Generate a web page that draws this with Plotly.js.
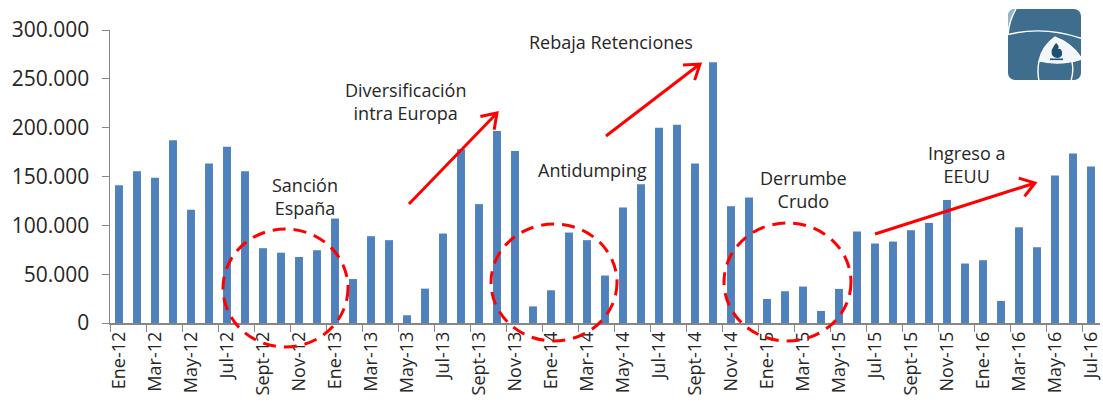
<!DOCTYPE html>
<html>
<head>
<meta charset="utf-8">
<script src="https://cdn.plot.ly/plotly-3.0.1.min.js"></script>
<style>html,body{margin:0;padding:0;background:#fff;}#chart{width:1103px;height:407px;}</style>
</head>
<body>
<div id="chart"></div>
<script>
// ---- Data ----
const categories = [
  'Ene-12','Feb-12','Mar-12','Abr-12','May-12','Jun-12','Jul-12','Ago-12','Sept-12','Oct-12','Nov-12','Dic-12',
  'Ene-13','Feb-13','Mar-13','Abr-13','May-13','Jun-13','Jul-13','Ago-13','Sept-13','Oct-13','Nov-13','Dic-13',
  'Ene-14','Feb-14','Mar-14','Abr-14','May-14','Jun-14','Jul-14','Ago-14','Sept-14','Oct-14','Nov-14','Dic-14',
  'Ene-15','Feb-15','Mar-15','Abr-15','May-15','Jun-15','Jul-15','Ago-15','Sept-15','Oct-15','Nov-15','Dic-15',
  'Ene-16','Feb-16','Mar-16','Abr-16','May-16','Jun-16','Jul-16'
];
const values = [
  141000,155500,148600,187000,116000,163400,180400,155500,76600,72000,67600,74500,
  107000,45000,88900,84800,7900,35200,91600,178000,121700,196500,176000,17000,
  33500,92600,84800,48600,118300,142000,199900,203000,163400,267000,119600,128500,
  24600,32500,37300,12300,34900,93700,81400,83400,95000,102500,126000,60900,
  64300,22600,98000,77600,151000,173600,160300
];
const yTickVals = [0, 50000, 100000, 150000, 200000, 250000, 300000];
const notes = [
  {text: 'Sanción<br>España', x: 305, y: 196},
  {text: 'Diversificación<br>intra Europa', x: 405, y: 101},
  {text: 'Rebaja Retenciones', x: 611, y: 42},
  {text: 'Antidumping', x: 592, y: 170},
  {text: 'Derrumbe<br>Crudo', x: 803, y: 189},
  {text: 'Ingreso a<br>EEUU', x: 966, y: 164}
];

// ---- Layout helpers (pixel -> paper) ----
const L = 110, T = 30, W = 990, H = 293;
const fx = px => (px - L) / W;
const fy = py => (T + H - py) / H;

function circleShape(cx, cy, rx, ry) {
  return {type: 'circle', xref: 'paper', yref: 'paper',
    x0: fx(cx - rx), x1: fx(cx + rx), y0: fy(cy + ry), y1: fy(cy - ry),
    line: {color: '#FF0000', width: 3, dash: '13px,8px'}};
}
function arrowShape(x0, y0, x1, y1) {
  const ang = Math.atan2(y1 - y0, x1 - x0);
  const len = 17, spread = 0.6;
  const ax = x1 - len * Math.cos(ang - spread), ay = y1 - len * Math.sin(ang - spread);
  const bx = x1 - len * Math.cos(ang + spread), by = y1 - len * Math.sin(ang + spread);
  const p = (x, y) => fx(x).toFixed(5) + ',' + fy(y).toFixed(5);
  return {type: 'path', xref: 'paper', yref: 'paper',
    path: 'M' + p(x0, y0) + ' L' + p(x1, y1) + ' M' + p(ax, ay) + ' L' + p(x1, y1) + ' L' + p(bx, by),
    line: {color: '#FF0000', width: 3}};
}

const logoSvg =
  '<svg xmlns="http://www.w3.org/2000/svg" width="73" height="71" viewBox="0 0 73 71">' +
  '<defs><clipPath id="c"><rect x="0" y="0" width="73" height="71" rx="7" ry="7"/></clipPath></defs>' +
  '<g clip-path="url(#c)">' +
  '<rect x="0" y="0" width="73" height="71" fill="#3F6D8E"/>' +
  '<path d="M0,0 L8,0 Q1,12 0,26 Z" fill="#93B6CD"/>' +
  '<path d="M8,0 Q1,12 0,26" stroke="#fff" stroke-width="1.4" fill="none"/>' +
  '<path d="M-2,26 Q36,16 75,30" stroke="#fff" stroke-width="1.4" fill="none"/>' +
  '<path d="M47,28 Q34,37 31,52 Q52,57 74,50 Q64,34 47,28 Z" fill="#F4F7FA" stroke="#fff" stroke-width="1.2"/>' +
  '<path d="M31,52 Q29,62 31,72" stroke="#fff" stroke-width="1.4" fill="none"/>' +
  '<path d="M64,53 Q66,62 63,72" stroke="#fff" stroke-width="1.4" fill="none"/>' +
  '<path d="M48,34 Q42,41 44,46 Q46,49 50,49 Q55,48 54,43 Q53,39 50,40 Q52,37 48,34 Z" fill="#1F4F70"/>' +
  '<rect x="42" y="49.5" width="13" height="1.6" fill="#1F4F70"/>' +
  '</g></svg>';
const logoUri = 'data:image/svg+xml;charset=utf-8,' + encodeURIComponent(logoSvg);

const textColor = '#262626';
const fontFam = '"Open Sans", "Noto Sans", sans-serif';

const trace = {
  type: 'bar',
  x: categories,
  y: values,
  marker: {color: '#4F81BD', line: {width: 0}},
  hoverinfo: 'x+y'
};

const layout = {
  width: 1103, height: 407,
  margin: {l: L, r: 1103 - L - W, t: T, b: 407 - T - H, pad: 0},
  paper_bgcolor: '#ffffff', plot_bgcolor: '#ffffff',
  separators: ',.',
  showlegend: false,
  bargap: 0.56,
  font: {family: fontFam, color: textColor},
  xaxis: {
    type: 'category',
    tickmode: 'linear', tick0: 0, dtick: 2,
    tickson: 'boundaries',
    ticks: 'outside', ticklen: 7, tickcolor: '#868686', tickwidth: 1,
    tickangle: -90,
    tickfont: {size: 18, family: fontFam, color: textColor},
    showline: true, linecolor: '#868686', linewidth: 1.5,
    showgrid: false, zeroline: false,
    range: [-0.5, categories.length - 0.5]
  },
  yaxis: {
    range: [0, 300000],
    tickmode: 'array', tickvals: yTickVals,
    tickformat: ',d',
    ticks: 'outside', ticklen: 7, tickcolor: '#868686', tickwidth: 1,
    ticklabelstandoff: 8,
    tickfont: {size: 21, family: fontFam, color: textColor},
    showline: true, linecolor: '#868686', linewidth: 1.5,
    showgrid: false, zeroline: false
  },
  annotations: notes.map(n => ({
    text: n.text, xref: 'paper', yref: 'paper', x: fx(n.x), y: fy(n.y),
    xanchor: 'center', yanchor: 'middle', showarrow: false,
    font: {size: 18, family: fontFam, color: textColor}
  })),
  shapes: [
    circleShape(285.5, 288, 62.5, 59),
    circleShape(554, 282.5, 63, 58.5),
    circleShape(787.5, 282, 63.5, 59),
    arrowShape(409, 204, 497, 113),
    arrowShape(606, 136, 700, 64),
    arrowShape(875, 234, 1035, 183)
  ],
  images: [{
    source: logoUri, xref: 'paper', yref: 'paper',
    x: fx(1008), y: fy(9), sizex: 73 / W, sizey: 71 / H,
    xanchor: 'left', yanchor: 'top', sizing: 'stretch', layer: 'above'
  }]
};

Plotly.newPlot('chart', [trace], layout, {displayModeBar: false, staticPlot: true});
</script>
</body>
</html>
